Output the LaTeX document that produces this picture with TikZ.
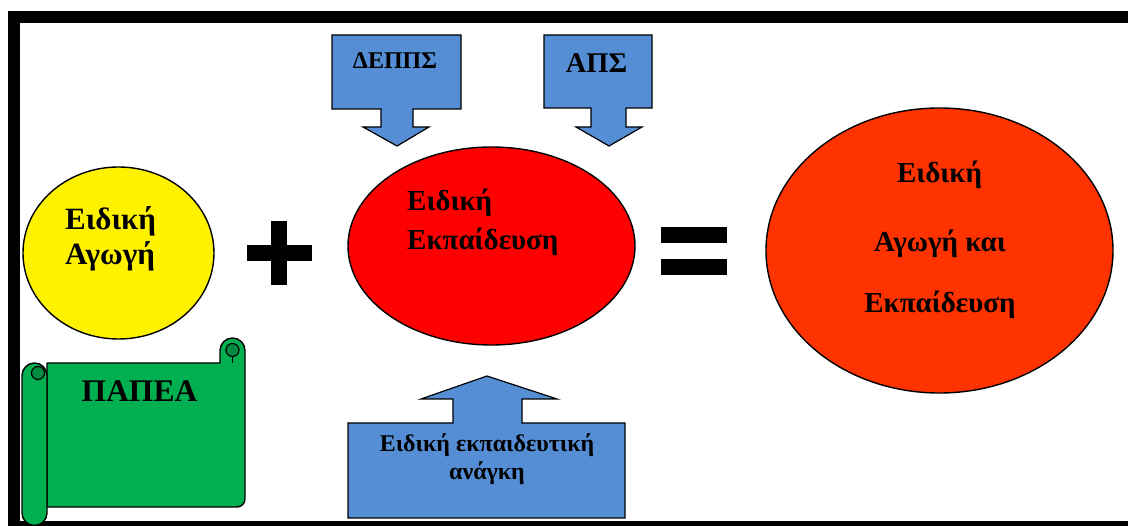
\documentclass[tikz,border=0pt]{standalone}
\usepackage{fontspec}
\setmainfont{Liberation Serif}
\usetikzlibrary{shapes.geometric}
\definecolor{bluebox}{RGB}{85,142,213}
\definecolor{scrollgreen}{RGB}{0,176,80}
\definecolor{scrolldark}{RGB}{0,140,64}
\definecolor{orangered}{RGB}{255,51,0}
\tikzset{
  blob/.style={ellipse, draw=black, line width=1.4pt, inner sep=0pt},
  callout/.style={fill=bluebox, draw=black, line width=1.2pt, line join=miter},
  scrollpart/.style={fill=scrollgreen, draw=black, line width=1.4pt, line join=round},
  lbl/.style={inner sep=0pt, font=\bfseries},
}
\newcommand{\fs}[1]{\fontsize{#1}{#1}\selectfont}
\begin{document}
\begin{tikzpicture}[x=1pt,y=-1pt]
\useasboundingbox (0,0) rectangle (1128,526);
\begin{scope}
\clip (0,0) rectangle (1128,526);
% frame
\draw[line width=12pt] (14,17) rectangle (1150,527);

% ellipses
\node[blob, fill=yellow, minimum width=191pt, minimum height=172pt] (agogi) at (118.5,253) {};
\node[blob, fill=red, minimum width=287pt, minimum height=198pt] (ekp) at (491.5,246) {};
\node[blob, fill=orangered, minimum width=347pt, minimum height=285pt] (sum) at (939.5,250.5) {};

% plus and equals
\fill (270.7,221) rectangle (286.7,285);
\fill (246.7,245) rectangle (312,261);
\fill (660.7,227) rectangle (726.7,243);
\fill (660.7,259) rectangle (726.7,275);

% callouts
\draw[callout] (332,35) -- (461,35) -- (461,109) -- (413,109) -- (413,127) -- (429,127) -- (397,146) -- (363,127) -- (381,127) -- (381,109) -- (332,109) -- cycle;
\draw[callout] (544,35) -- (652,35) -- (652,108) -- (626,108) -- (626,127) -- (642,127) -- (609,146) -- (576,127) -- (591,127) -- (591,108) -- (544,108) -- cycle;
\draw[callout] (348,518) -- (348,423) -- (453,423) -- (453,399) -- (421,399) -- (487,376) -- (557,399) -- (522,399) -- (522,423) -- (625,423) -- (625,518) -- cycle;

% scroll
\draw[scrollpart] (47,363) -- (220,363) -- (220,350.5) arc (180:360:12.5) -- (245,499) arc (0:90:8) -- (47,507) -- cycle;
\fill[scrolldark, draw=black, line width=1.2pt] (232.5,350) circle (6.5);
\draw[black, line width=1.2pt] (232.5,356.5) -- (232.5,363);
\draw[scrollpart] (22,375.5) arc (180:360:12.5) -- (47,513) arc (0:180:12.5) -- cycle;
\fill[scrolldark, draw=black, line width=1.2pt] (38,373) circle (6.5);

% texts
\node[lbl, anchor=base west] (t1a) at (65,230) {\fs{31}Ειδική};
\node[lbl, anchor=base west] (t1b) at (65,265) {\fs{31}Αγωγή};
\node[lbl, anchor=base west] (t2a) at (407,211) {\fs{29}Ειδική};
\node[lbl, anchor=base west] (t2b) at (407,250) {\fs{29}Εκπαίδευση};
\node[lbl, anchor=base] (t3a) at (939.5,183) {\fs{29}Ειδική};
\node[lbl, anchor=base] (t3b) at (940,252) {\fs{29}Αγωγή και};
\node[lbl, anchor=base] (t3c) at (940,313) {\fs{29}Εκπαίδευση};
\node[lbl, anchor=base] (depps) at (395,69) {\fs{24}ΔΕΠΠΣ};
\node[lbl, anchor=base] (aps) at (596.5,73) {\fs{28.5}ΑΠΣ};
\node[lbl, anchor=base] (eea) at (487,452) {\fs{24}Ειδική εκπαιδευτική};
\node[lbl, anchor=base] (eeb) at (487,480) {\fs{24}ανάγκη};
\node[lbl, anchor=base] (papea) at (139.5,402) {\fs{31.5}ΠΑΠΕΑ};
\end{scope}
\end{tikzpicture}
\end{document}
